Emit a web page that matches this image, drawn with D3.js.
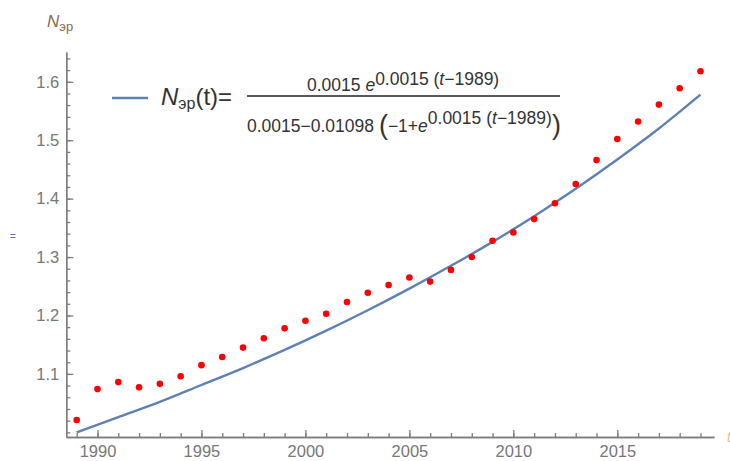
<!DOCTYPE html>
<html>
<head>
<meta charset="utf-8">
<script src="https://cdn.jsdelivr.net/npm/d3@7"></script>
<style>
  body { margin: 0; background: #fff; }
  svg { display: block; font-family: "Liberation Sans", Arial, sans-serif; }
  .axis path, .axis line { stroke: #7d7d7d; stroke-width: 1.3; }
  .axis text { fill: #777; font-size: 16.5px; }
</style>
</head>
<body>
<div class="chart"></div>
<script>
// observed values, one per year
const years = [1989, 1990, 1991, 1992, 1993, 1994, 1995, 1996, 1997, 1998,
    1999, 2000, 2001, 2002, 2003, 2004, 2005, 2006, 2007, 2008,
    2009, 2010, 2011, 2012, 2013, 2014, 2015, 2016, 2017, 2018, 2019];
const observed = [1.021, 1.074, 1.086, 1.077, 1.083, 1.096, 1.115, 1.129, 1.145, 1.161,
    1.178, 1.191, 1.203, 1.223, 1.239, 1.252, 1.265, 1.258, 1.278, 1.300,
    1.328, 1.342, 1.365, 1.392, 1.425, 1.466, 1.502, 1.532, 1.561, 1.589, 1.618];

// model curve, read every two years
const curveYears = [1989, 1991, 1993, 1995, 1997, 1999, 2001, 2003,
    2005, 2007, 2009, 2011, 2013, 2015, 2017, 2019];
const curveValues = [1.000, 1.026, 1.052, 1.081, 1.110, 1.141, 1.174, 1.209,
    1.246, 1.285, 1.326, 1.370, 1.417, 1.467, 1.520, 1.578];

const xTicks = [1990, 1995, 2000, 2005, 2010, 2015];
const yTicks = [1.1, 1.2, 1.3, 1.4, 1.5, 1.6];

const width = 730;
const height = 461;

let svg = d3.select(".chart").append("svg")
    .attr("width", width)
    .attr("height", height);

let xScale = d3.scaleLinear()
    .domain([1988.5, 2019.65])
    .range([66.3, 714]);
let yScale = d3.scaleLinear()
    .domain([0.992, 1.651])
    .range([437, 52]);

// minor ticks
let xMinor = d3.range(1989, 2020);
let yMinor = d3.range(1.0, 1.65, 0.02);

svg.append("g")
    .attr("class", "axis")
    .attr("transform", "translate(0," + yScale.range()[0] + ")")
    .call(d3.axisBottom(xScale).tickValues(xMinor).tickSizeInner(-4).tickSizeOuter(0).tickFormat(""));
svg.append("g")
    .attr("class", "axis")
    .attr("transform", "translate(0," + yScale.range()[0] + ")")
    .call(d3.axisBottom(xScale).tickValues(xTicks).tickSizeInner(-7).tickSizeOuter(0)
        .tickPadding(8).tickFormat(d3.format("d")));

svg.append("g")
    .attr("class", "axis")
    .attr("transform", "translate(" + xScale.range()[0] + ",0)")
    .call(d3.axisLeft(yScale).tickValues(yMinor).tickSizeInner(-4).tickSizeOuter(0).tickFormat(""));
svg.append("g")
    .attr("class", "axis")
    .attr("transform", "translate(" + xScale.range()[0] + ",0)")
    .call(d3.axisLeft(yScale).tickValues(yTicks).tickSizeInner(-7).tickSizeOuter(0)
        .tickPadding(7).tickFormat(d3.format(".1f")));

// model curve
let line = d3.line()
    .x((d, i) => xScale(curveYears[i]))
    .y(d => yScale(d))
    .curve(d3.curveMonotoneX);
svg.append("path")
    .datum(curveValues)
    .attr("d", line)
    .attr("fill", "none")
    .attr("stroke", "#5E81B5")
    .attr("stroke-width", 2.4);

// observed points
svg.selectAll("circle")
    .data(observed)
    .enter()
    .append("circle")
    .attr("cx", (d, i) => xScale(years[i]))
    .attr("cy", d => yScale(d))
    .attr("r", 3.3)
    .attr("fill", "#ff0000");

// axis labels
let yLab = svg.append("text").attr("x", 47).attr("y", 27).attr("fill", "#8a6a4a");
yLab.append("tspan").attr("font-style", "italic").attr("font-size", 17).text("N");
yLab.append("tspan").attr("font-size", 13).attr("dy", 4).text("эр");

svg.append("text").attr("x", 10).attr("y", 240).attr("font-size", 10)
    .attr("fill", "#5a6fb0").text("=");
svg.append("text").attr("x", 727).attr("y", 442).attr("font-size", 14)
    .attr("fill", "#f0c080").attr("font-style", "italic").text("t");

// legend
let lg = svg.append("g").attr("fill", "#333");
lg.append("line")
    .attr("x1", 112).attr("x2", 148).attr("y1", 98).attr("y2", 98)
    .attr("stroke", "#5E81B5").attr("stroke-width", 2.4);

let lhs = lg.append("text").attr("x", 161).attr("y", 105).attr("font-size", 24);
lhs.append("tspan").attr("font-style", "italic").text("N");
lhs.append("tspan").attr("font-size", 16).attr("dy", 4).text("эр");
lhs.append("tspan").attr("dy", -4).text("(t)=");

lg.append("line")
    .attr("x1", 247).attr("x2", 560).attr("y1", 96).attr("y2", 96)
    .attr("stroke", "#222").attr("stroke-width", 1.6);

let num = lg.append("text").attr("x", 307).attr("y", 91).attr("font-size", 17.5);
num.append("tspan").text("0.0015 ");
num.append("tspan").attr("font-style", "italic").text("e");
num.append("tspan").attr("dy", -6).text("0.0015 (");
num.append("tspan").attr("font-style", "italic").text("t");
num.append("tspan").text("\u22121989)");

let den = lg.append("text").attr("x", 247).attr("y", 132).attr("font-size", 17.5);
den.append("tspan").text("0.0015\u22120.01098 ");
den.append("tspan").attr("font-size", 27).attr("dy", 2).text("(");
den.append("tspan").attr("dy", -2).text("\u22121+");
den.append("tspan").attr("font-style", "italic").text("e");
den.append("tspan").attr("dy", -8).text("0.0015 (");
den.append("tspan").attr("font-style", "italic").text("t");
den.append("tspan").text("\u22121989)");
den.append("tspan").attr("font-size", 27).attr("dy", 10).text(")");
</script>
</body>
</html>
